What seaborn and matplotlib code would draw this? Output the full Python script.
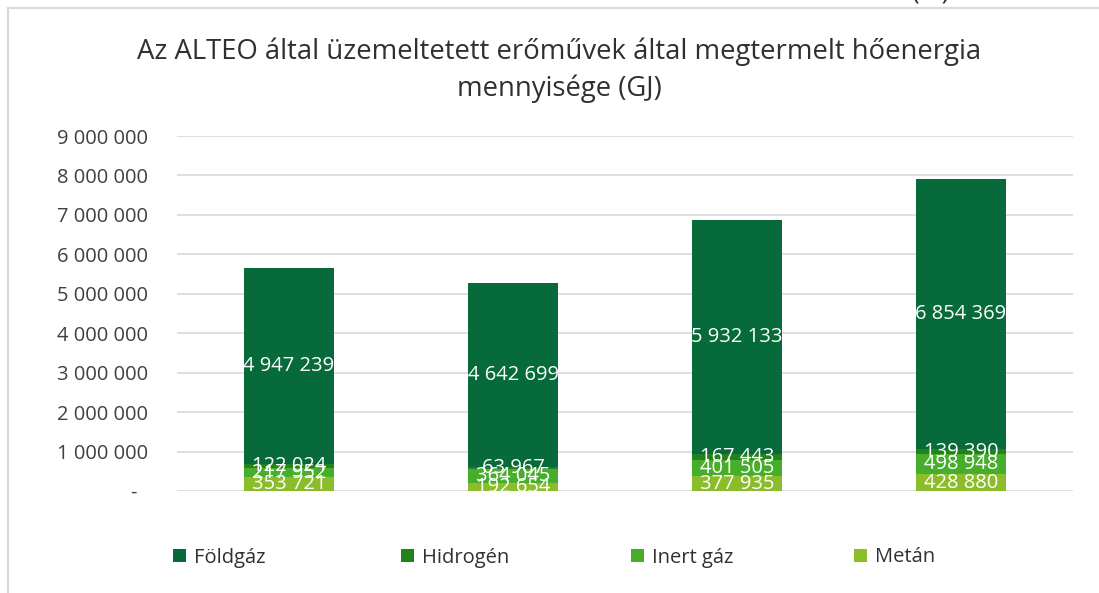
import matplotlib
matplotlib.use("Agg")
import matplotlib.pyplot as plt
import seaborn as sns
import numpy as np
import pandas as pd
from matplotlib.lines import Line2D
from matplotlib.patches import Patch
from matplotlib.ticker import FuncFormatter

# ---- data ----
categories = ["1", "2", "3", "4"]
metan = [353721, 192654, 377935, 428880]
inert_gaz = [217952, 364045, 401505, 498948]
hidrogen = [122024, 63967, 167443, 139390]
foldgaz = [4947239, 4642699, 5932133, 6854369]
series_names = ["Földgáz", "Hidrogén", "Inert gáz", "Metán"]
title = "Az ALTEO által üzemeltetett erőművek által megtermelt hőenergia\nmennyisége (GJ)"

colors = {"Földgáz": "#066A3A", "Hidrogén": "#23821C", "Inert gáz": "#46AE2A", "Metán": "#8BBD2A"}

sns.set_theme(style="white")
plt.rcParams['font.family'] = ['Open Sans', 'DejaVu Sans']

fig = plt.figure(figsize=(10.99, 5.93), dpi=100)
ax = fig.add_axes([177/1099, 1-491/593, 896/1099, 355/593])

stack_order = ["Metán", "Inert gáz", "Hidrogén", "Földgáz"]
values = {"Metán": metan, "Inert gáz": inert_gaz, "Hidrogén": hidrogen, "Földgáz": foldgaz}
cum = {}
running = np.zeros(len(categories))
for name in stack_order:
    bottom = running.copy()
    running = running + np.array(values[name], dtype=float)
    cum[name] = (bottom, running.copy())

# draw tallest first (cumulative overlap)
for name in reversed(stack_order):
    df = pd.DataFrame({"cat": categories, "val": cum[name][1]})
    sns.barplot(data=df, x="cat", y="val", color=colors[name], saturation=1,
                width=0.4, ax=ax, edgecolor="none", linewidth=0, zorder=3)

# data labels
for name in stack_order:
    b, t = cum[name]
    for i, v in enumerate(values[name]):
        ax.text(i, (b[i] + t[i]) / 2, f"{v:,}".replace(",", " "), ha="center", va="center",
                color="white", fontsize=14.5, zorder=5)

ax.set_xlim(-0.5, 3.5)
ax.set_ylim(0, 9_000_000)
ax.set_yticks(np.arange(0, 9_000_001, 1_000_000))

def fmt(v, pos):
    if v == 0:
        return "-  "
    return f"{int(v):,}".replace(",", " ")
ax.yaxis.set_major_formatter(FuncFormatter(fmt))
ax.tick_params(axis="y", length=0, pad=21, labelsize=14.5, labelcolor="#404040")
ax.set_xticks([])
ax.set_xlabel("")
ax.set_ylabel("")
ax.grid(axis="y", color="#D9D9D9", linewidth=1.2, zorder=0)
ax.set_axisbelow(True)
for s in ax.spines.values():
    s.set_visible(False)

fig.text(559/1099, 1-70/593, title, ha="center", va="center", fontsize=19.8,
         color="#303030", linespacing=1.4)

# legend entries, one per series
leg_x = [173, 401, 631, 854]
for n, lx in zip(series_names, leg_x):
    leg = fig.legend([Patch(facecolor=colors[n], edgecolor="none")], [n], loc="center left",
                     bbox_to_anchor=(lx/1099, 1-557.5/593), frameon=False, fontsize=14.5,
                     handlelength=0.65, handleheight=0.65, handletextpad=0.4,
                     borderaxespad=0, borderpad=0)
    for t in leg.get_texts():
        t.set_color("#303030")

# chart frame lines
fig.add_artist(Line2D([8/1099, 8/1099], [0, 1-8/593], color="#D9D9D9", linewidth=1.5))
fig.add_artist(Line2D([8/1099, 1], [1-8/593, 1-8/593], color="#D9D9D9", linewidth=1.5))
fig.text(931/1099, 1+8/593, "(%)", ha="center", va="center", fontsize=19, color="#303030")

fig.savefig("out.png", dpi=100)
